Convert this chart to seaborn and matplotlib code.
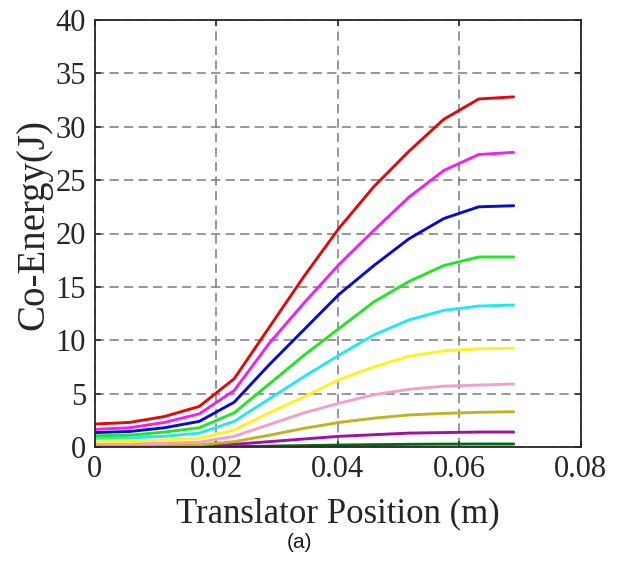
import numpy as np
import pandas as pd
import matplotlib
matplotlib.use("Agg")
import matplotlib.pyplot as plt
import seaborn as sns

# Translator positions (m)
position = [0.0, 0.00575, 0.0115, 0.01725, 0.023, 0.02875, 0.0345,
            0.04025, 0.046, 0.05175, 0.0575, 0.06325, 0.069]

red     = [2.15, 2.3, 2.85, 3.8, 6.4, 11.2, 16.0, 20.5, 24.4, 27.7, 30.7, 32.6, 32.8]
magenta = [1.65, 1.8, 2.3, 3.1, 5.3, 9.7, 13.5, 17.1, 20.3, 23.4, 25.9, 27.4, 27.6]
blue    = [1.35, 1.45, 1.8, 2.4, 4.2, 7.7, 11.0, 14.3, 17.0, 19.5, 21.4, 22.5, 22.6]
green   = [1.05, 1.1, 1.4, 1.8, 3.2, 5.9, 8.6, 11.1, 13.6, 15.5, 17.0, 17.8, 17.8]
cyan    = [0.8, 0.85, 1.0, 1.3, 2.4, 4.5, 6.6, 8.6, 10.5, 11.9, 12.8, 13.2, 13.3]
yellow  = [0.5, 0.5, 0.65, 0.8, 1.6, 3.2, 4.7, 6.3, 7.5, 8.5, 9.0, 9.2, 9.25]
pink    = [0.3, 0.3, 0.35, 0.45, 1.0, 2.1, 3.2, 4.1, 4.9, 5.4, 5.7, 5.8, 5.9]
olive   = [0.1, 0.1, 0.15, 0.2, 0.5, 1.1, 1.75, 2.3, 2.7, 3.0, 3.15, 3.25, 3.3]
purple  = [0.03, 0.03, 0.06, 0.1, 0.25, 0.5, 0.75, 1.0, 1.15, 1.3, 1.35, 1.4, 1.4]
dkgreen = [0.0, 0.0, 0.0, 0.01, 0.03, 0.08, 0.13, 0.18, 0.22, 0.25, 0.27, 0.28, 0.28]

series = {
    "red": red, "magenta": magenta, "blue": blue, "green": green,
    "cyan": cyan, "yellow": yellow, "pink": pink, "olive": olive,
    "purple": purple, "dkgreen": dkgreen,
}
colors = {
    "red": "#e00a0a", "magenta": "#f020f0", "blue": "#0a0ad0",
    "green": "#22e622", "cyan": "#22e8f2", "yellow": "#fff21e",
    "pink": "#f4a0c4", "olive": "#c0b41e", "purple": "#a010a8",
    "dkgreen": "#006a10",
}

rows = []
for name, vals in series.items():
    for x, y in zip(position, vals):
        rows.append({"x": x, "y": y, "curve": name})
df = pd.DataFrame(rows)

sns.set_style("white")
plt.rcParams["font.family"] = ["Liberation Serif", "DejaVu Serif"]
plt.rcParams["mathtext.fontset"] = "stix"

fig = plt.figure(figsize=(6.22, 5.67), dpi=100)
ax = fig.add_axes([94.5 / 622, 120 / 567, 486 / 622, 427 / 567])

hue_order = list(series.keys())[::-1]
sns.lineplot(data=df, x="x", y="y", hue="curve", hue_order=hue_order,
             palette=colors, linewidth=2.1, legend=False, ax=ax,
             estimator=None, sort=False)

ax.set_xlim(0, 0.08)
ax.set_ylim(0, 40)
ax.set_xticks([0, 0.02, 0.04, 0.06, 0.08])
ax.set_xticklabels(["0", "0.02", "0.04", "0.06", "0.08"])
ax.set_yticks(np.arange(0, 41, 5))
ax.set_yticklabels([str(v) for v in range(0, 41, 5)])

ax.grid(True, color="#7a7a7a", linestyle=(0, (6, 3.5)), linewidth=1.1)
ax.set_axisbelow(True)

for s in ax.spines.values():
    s.set_visible(True)
    s.set_color("#262626")
    s.set_linewidth(1.3)

ax.tick_params(direction="in", length=4, width=1.1, top=True, right=True,
               bottom=True, left=True, labelsize=22, colors="#262626",
               labelcolor="#262626", pad=6)

ax.set_xlabel("Translator Position (m)", fontsize=25, color="#262626", labelpad=9)
ax.set_ylabel("Co-Energy(J)", fontsize=28, color="#262626", va="center")
ax.yaxis.set_label_coords(-0.1245, 0.52)

fig.text(300 / 622, 1 - 542 / 567, "(a)", fontsize=15, ha="center", va="center",
         family=["Liberation Sans", "DejaVu Sans"], color="#1a1a1a")

fig.savefig("out.png", dpi=100, facecolor="white")
